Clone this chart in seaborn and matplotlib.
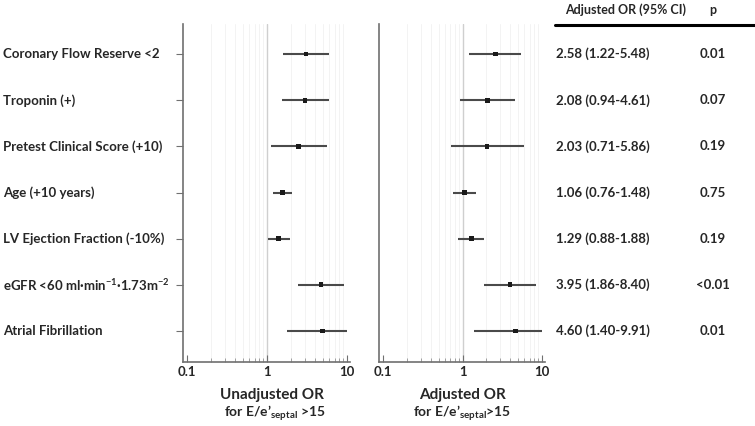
import matplotlib
matplotlib.use("Agg")
import matplotlib.pyplot as plt
import matplotlib.transforms as mtransforms
from matplotlib.ticker import NullFormatter, FixedLocator
import seaborn as sns
import numpy as np
import pandas as pd

# ---------------- data ----------------
categories = [
    "Coronary Flow Reserve <2",
    "Troponin (+)",
    "Pretest Clinical Score (+10)",
    "Age (+10 years)",
    "LV Ejection Fraction (-10%)",
    r"eGFR <60 ml·min$^{-1}$·1.73m$^{-2}$",
    "Atrial Fibrillation",
]
unadj_or = [3.07, 2.99, 2.47, 1.55, 1.39, 4.73, 4.97]
unadj_lo = [1.57, 1.55, 1.11, 1.20, 1.02, 2.42, 1.80]
unadj_hi = [6.00, 5.90, 5.57, 2.03, 1.94, 9.17, 9.91]

adj_or = [2.58, 2.08, 2.03, 1.06, 1.29, 3.95, 4.60]
adj_lo = [1.22, 0.94, 0.71, 0.76, 0.88, 1.86, 1.40]
adj_hi = [5.48, 4.61, 5.86, 1.48, 1.88, 8.40, 9.91]

adj_text = ["2.58 (1.22-5.48)", "2.08 (0.94-4.61)", "2.03 (0.71-5.86)",
            "1.06 (0.76-1.48)", "1.29 (0.88-1.88)", "3.95 (1.86-8.40)",
            "4.60 (1.40-9.91)"]
p_text = ["0.01", "0.07", "0.19", "0.75", "0.19", "<0.01", "0.01"]

x_ticks = [0.1, 1, 10]
x_ticklabels = ["0.1", "1", "10"]

# ---------------- style ----------------
sns.set_theme(style="white")
plt.rcParams["font.family"] = ["Lato", "DejaVu Sans"]
plt.rcParams["font.weight"] = "bold"
plt.rcParams["mathtext.fontset"] = "custom"
plt.rcParams["mathtext.rm"] = "Lato:bold"
plt.rcParams["mathtext.bf"] = "Lato:bold"
plt.rcParams["mathtext.default"] = "rm"

W, H = 755, 426
fig = plt.figure(figsize=(W / 100, H / 100), dpi=100)

def frac_x(px):
    return px / W

def frac_y(py):
    return 1 - py / H

ax_bottom, ax_top = 362, 24
axL = fig.add_axes([frac_x(183), frac_y(ax_bottom), frac_x(350) - frac_x(183),
                    frac_y(ax_top) - frac_y(ax_bottom)])
axR = fig.add_axes([frac_x(379), frac_y(ax_bottom), frac_x(545) - frac_x(379),
                    frac_y(ax_top) - frac_y(ax_bottom)])

ypos = np.arange(len(categories))
fs = 9.5

def draw_panel(ax, est, lo, hi, show_yticks):
    df = pd.DataFrame({"est": est, "lo": lo, "hi": hi, "y": ypos})
    ax.set_xscale("log")
    ax.set_xlim(0.0891, 10.9)
    ax.set_ylim(len(categories) - 1 + 0.67, -0.65)
    minor = [m * 10.0 ** e for e in (-1, 0) for m in range(2, 10)]
    for v in minor:
        ax.axvline(v, color="#f3f3f3", lw=0.7, zorder=0)
    ax.axvline(1, color="#cfcfcf", lw=1.0, zorder=0)
    ax.hlines(df["y"], df["lo"], df["hi"], color="#4a4a4a", lw=1.5, zorder=2)
    sns.scatterplot(data=df, x="est", y="y", ax=ax, marker="s", s=12,
                    color="#1a1a1a", edgecolor="none", zorder=3, legend=False)
    ax.set_xlabel("")
    ax.set_ylabel("")
    for s in ("top", "right"):
        ax.spines[s].set_visible(False)
    for s in ("left", "bottom"):
        ax.spines[s].set_color("#707070")
        ax.spines[s].set_linewidth(1.2)
    ax.xaxis.set_major_locator(FixedLocator(x_ticks))
    ax.set_xticklabels(x_ticklabels, fontsize=fs, fontweight="bold")
    ax.xaxis.set_minor_locator(FixedLocator(minor))
    ax.xaxis.set_minor_formatter(NullFormatter())
    ax.tick_params(axis="x", which="major", direction="in", length=5,
                   width=0.8, color="#707070", bottom=True, pad=3)
    ax.tick_params(axis="x", which="minor", direction="in", length=3,
                   width=0.6, color="#909090", bottom=True)
    if show_yticks:
        ax.set_yticks(ypos)
        ax.set_yticklabels([""] * len(ypos))
        ax.tick_params(axis="y", direction="out", length=5, width=0.8,
                       color="#707070", left=True)
    else:
        ax.set_yticks([])

draw_panel(axL, unadj_or, unadj_lo, unadj_hi, True)
draw_panel(axR, adj_or, adj_lo, adj_hi, False)

# row labels
trL = mtransforms.blended_transform_factory(fig.transFigure, axL.transData)
for y, lab in zip(ypos, categories):
    fig.text(frac_x(3), 0, lab, transform=trL, ha="left", va="center",
             fontsize=fs, fontweight="bold").set_y(y)

# x labels
fig.text(frac_x(272), frac_y(395), "Unadjusted OR", ha="center", va="center",
         fontsize=11, fontweight="bold")
fig.text(frac_x(275), frac_y(413), r"for E/e’$_{\mathregular{septal}}$ >15",
         ha="center", va="center", fontsize=10, fontweight="bold")
fig.text(frac_x(462), frac_y(395), "Adjusted OR", ha="center", va="center",
         fontsize=11, fontweight="bold")
fig.text(frac_x(462), frac_y(413), r"for E/e’$_{\mathregular{septal}}$>15",
         ha="center", va="center", fontsize=10, fontweight="bold")

# table
trR = mtransforms.blended_transform_factory(fig.transFigure, axR.transData)
fig.text(frac_x(565), frac_y(10), "Adjusted OR (95% CI)", ha="left",
         va="center", fontsize=9, fontweight="bold")
fig.text(frac_x(713), frac_y(10), "p", ha="center", va="center",
         fontsize=9, fontweight="bold")
fig.add_artist(plt.Line2D([frac_x(555), frac_x(755)], [frac_y(25), frac_y(25)],
                          transform=fig.transFigure, color="black", lw=2.2))
for y, t, p in zip(ypos, adj_text, p_text):
    fig.text(frac_x(556), 0, t, transform=trR, ha="left", va="center",
             fontsize=fs, fontweight="bold").set_y(y)
    fig.text(frac_x(713), 0, p, transform=trR, ha="center", va="center",
             fontsize=fs, fontweight="bold").set_y(y)

fig.savefig("out.png", dpi=100)
